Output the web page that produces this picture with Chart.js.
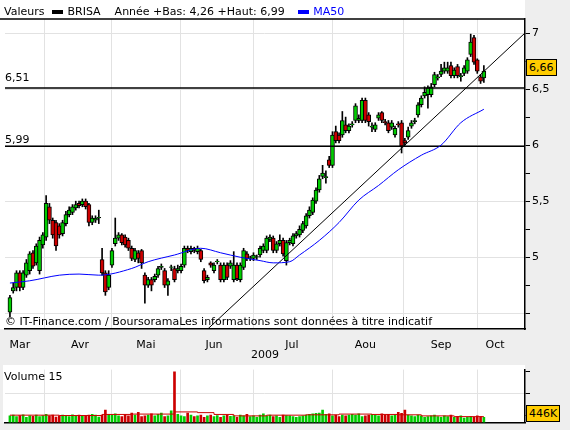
<!DOCTYPE html>
<html>
<head>
<meta charset="utf-8">
<script src="https://cdn.jsdelivr.net/npm/chart.js@4"></script>
<style>
  body { margin: 0; background: #eeeeee; font-family: "DejaVu Sans", sans-serif; font-size: 11px; }
  #wrap { position: relative; width: 570px; height: 430px; overflow: hidden; }
  canvas { position: absolute; left: 0; }
  .txt { position: absolute; white-space: nowrap; font-size: 11px; color: #000; }
  .sw { display: inline-block; width: 11px; height: 4px; vertical-align: middle; margin: 0 4px 0 8px; }
  .box { position: absolute; background: #ffcc00; border: 1px solid #000; font-size: 11px; padding: 1px 2px; }
</style>
</head>
<body>
<div id="wrap">
  <canvas id="priceChart" width="570" height="362" style="top:0"></canvas>
  <canvas id="volChart" width="570" height="68" style="top:362px"></canvas>

  <div class="txt" style="left:4px;top:5px">Valeurs<span class="sw" style="background:#000"></span>BRISA&nbsp;&nbsp;&nbsp; Année +Bas: 4,26 +Haut: 6,99 <span class="sw" style="background:#0000ff;margin-left:10px"></span><span style="color:#0000ff">MA50</span></div>
  <div class="txt" style="left:5px;top:71px">6,51</div>
  <div class="txt" style="left:5px;top:133px">5,99</div>
  <div class="txt" style="left:5px;top:315px">© IT-Finance.com / BoursoramaLes informations sont données à titre indicatif</div>
  <div class="box" style="left:526px;top:59px">6,66</div>
  <div class="txt" style="left:4px;top:370px">Volume 15</div>
  <div class="box" style="left:526px;top:405px">446K</div>
</div>
<script>
// bougies (ouverture, clôture, plus haut, plus bas)
const opens = [4.51,4.70,4.73,4.86,4.73,4.84,4.88,5.04,4.95,4.88, 5.11,5.18,5.45,5.33,5.31,5.28,5.21,5.30,5.38,5.40,
  5.44,5.48,5.47,5.50,5.47,5.31,5.33,5.35,4.98,4.86, 4.73,4.93,5.12,5.17,5.20,5.18,5.15,5.08,4.98,5.04,
  5.06,4.84,4.75,4.80,4.80,4.84,4.91,4.88,4.75,4.91, 4.90,4.88,4.88,4.93,5.08,5.05,5.08,5.05,5.06,4.88,
  4.80,4.95,4.88,4.96,4.93,4.80,4.93,4.92,4.80,4.93, 4.80,4.91,5.03,4.99,4.99,5.00,5.02,5.06,5.06,5.16,
  5.17,5.06,5.12,5.15,4.97,5.13,5.12,5.19,5.20,5.24, 5.28,5.37,5.40,5.50,5.60,5.72,5.71,5.87,5.82,6.12,
  6.09,6.09,6.18,6.13,6.18,6.22,6.22,6.22,6.40,6.27, 6.16,6.14,6.24,6.29,6.21,6.20,6.16,6.09,6.19,6.20,
  6.04,6.07,6.17,6.21,6.27,6.36,6.44,6.45,6.45,6.54, 6.60,6.63,6.66,6.66,6.71,6.62,6.70,6.61,6.64,6.66,
  6.81,6.96,6.76,6.61,6.60];
const closes = [4.64,4.73,4.86,4.73,4.86,4.95,5.03,4.92,5.10,5.15, 5.20,5.48,5.33,5.20,5.10,5.20,5.31,5.38,5.42,5.45,
  5.47,5.46,5.50,5.45,5.31,5.35,5.35,5.355,4.86,4.69, 4.84,5.06,5.17,5.20,5.13,5.11,5.08,4.99,5.06,4.99,
  4.95,4.75,4.80,4.75,4.83,4.90,4.92,4.75,4.79,4.915, 4.80,4.90,4.92,5.08,5.06,5.08,5.06,5.08,4.98,4.79,
  4.82,4.93,4.93,4.965,4.80,4.93,4.82,4.95,4.93,4.81, 4.93,5.06,4.99,4.995,5.02,5.005,5.08,5.10,5.17,5.18,
  5.06,5.12,5.15,5.03,5.13,5.15,5.19,5.21,5.25,5.30, 5.37,5.42,5.51,5.60,5.70,5.75,5.72,5.82,6.09,6.04,
  6.04,6.22,6.13,6.17,6.19,6.35,6.24,6.40,6.22,6.21, 6.17,6.18,6.27,6.22,6.20,6.13,6.20,6.15,6.18,5.99,
  6.02,6.13,6.20,6.22,6.36,6.42,6.47,6.51,6.52,6.63, 6.61,6.66,6.69,6.69,6.62,6.67,6.62,6.62,6.69,6.76,
  6.92,6.74,6.66,6.57,6.66];
const highs = [4.66,4.77,4.88,4.88,4.88,4.98,5.05,5.06,5.12,5.18, 5.22,5.55,5.48,5.35,5.33,5.30,5.33,5.41,5.45,5.47,
  5.50,5.50,5.52,5.52,5.48,5.37,5.37,5.42,5.08,4.88, 4.88,5.08,5.35,5.22,5.21,5.20,5.17,5.10,5.08,5.06,
  5.07,4.86,4.82,4.82,4.85,4.92,4.94,4.90,4.81,4.93, 4.92,4.93,4.94,5.10,5.10,5.10,5.09,5.10,5.07,4.90,
  4.84,4.96,4.95,4.98,4.95,4.95,4.95,4.97,5.05,4.95, 4.95,5.08,5.05,5.01,5.04,5.02,5.10,5.12,5.19,5.20,
  5.19,5.14,5.20,5.17,5.15,5.17,5.21,5.23,5.28,5.32, 5.39,5.45,5.53,5.62,5.73,5.82,5.77,5.90,6.12,6.17,
  6.11,6.30,6.25,6.19,6.21,6.37,6.27,6.42,6.42,6.29, 6.20,6.20,6.29,6.30,6.23,6.22,6.22,6.17,6.21,6.22,
  6.06,6.16,6.22,6.24,6.38,6.44,6.52,6.53,6.55,6.65, 6.63,6.72,6.74,6.74,6.74,6.69,6.72,6.64,6.71,6.78,
  6.99,6.98,6.77,6.63,6.71];
const lows = [4.47,4.68,4.70,4.70,4.71,4.82,4.85,4.90,4.93,4.85, 5.08,5.15,5.30,5.17,5.06,5.17,5.19,5.28,5.36,5.38,
  5.42,5.44,5.45,5.43,5.28,5.29,5.31,5.30,4.84,4.66, 4.71,4.91,5.10,5.15,5.11,5.09,5.06,4.97,4.96,4.95,
  4.90,4.59,4.73,4.70,4.78,4.82,4.89,4.73,4.66,4.88, 4.78,4.86,4.86,4.91,5.04,5.03,5.04,5.03,4.96,4.77,
  4.78,4.91,4.86,4.94,4.78,4.78,4.80,4.90,4.78,4.79, 4.78,4.89,4.97,4.97,4.97,4.98,5.00,5.04,5.04,5.14,
  5.04,5.04,5.10,5.01,4.93,5.11,5.10,5.17,5.18,5.22, 5.26,5.35,5.38,5.48,5.58,5.70,5.66,5.80,5.80,6.02,
  6.02,6.07,6.11,6.11,6.16,6.20,6.20,6.20,6.20,6.17, 6.12,6.12,6.22,6.20,6.18,6.11,6.14,6.07,6.16,5.93,
  6.00,6.05,6.15,6.19,6.25,6.34,6.42,6.33,6.43,6.52, 6.58,6.61,6.64,6.64,6.60,6.60,6.60,6.57,6.62,6.64,
  6.79,6.72,6.64,6.55,6.56];
// volumes en milliers
const volumes = [900,1000,800,950,1050,700,900,850,1000,800, 950,1100,900,1000,750,900,1000,950,800,1050,
  900,1000,850,900,1000,1100,1000,750,1000,1700, 1100,1000,1200,900,800,1100,900,1300,1000,1400,
  800,900,1000,1200,900,1100,1300,800,900,1600, 7000,1100,900,800,1300,1000,800,900,1000,700,
  900,1000,800,950,700,900,1000,850,900,700, 1000,900,1100,800,900,700,1000,1200,900,1000,
  800,900,700,1000,950,900,800,700,800,900, 1000,1100,1200,1250,1300,1700,1100,1200,900,1000,
  800,1000,900,1000,1100,1000,1200,800,900,1000, 1100,1000,900,1200,1000,1100,900,1000,1400,1250,
  1700,1000,900,800,1000,900,700,800,900,1000, 800,700,900,800,1000,700,800,900,600,700,
  800,700,900,800,700];
// moyenne mobile 50 (points relevés)
const maX = [0,6,15,21,27,37,42,50,58,64,70,76,80,85,88,94,100,106,112,118,125,131,137,144];
const maY = [4.77,4.79,4.84,4.85,4.84,4.90,4.96,5.02,5.08,5.04,5.00,4.97,4.95,4.96,5.02,5.15,5.31,5.51,5.64,5.78,5.91,6.00,6.20,6.32];
// moyenne volume
const vmaX = [0,15,28,37,49,50,57,62,68,78,90,100,110,118,125,135,144];
const vmaY = [1000,950,1100,1150,1150,1450,1350,1100,900,1000,1050,1150,1100,1050,900,800,800];
// droites
const trendX = [55, 156.5];
const trendY = [4.22, 7.0];
const supports = [6.51, 5.99];
// axe temps
const monthLabels = ["Mar","Avr","Mai","Jun","Jul","Aou","Sep","Oct"];
const monthMid = [3, 21.3, 41.3, 62, 85.7, 108, 131, 147.4];
const monthStart = [10.6, 31, 51.7, 73.9, 97.9, 119.5, 142];
const priceTicks = [4.5,4.75,5,5.25,5.5,5.75,6,6.25,6.5,6.75,7];

const xMin = -1.5, xMax = 156.5;
const green = "#00cc00", red = "#cc0000";
const candleColors = opens.map((o, i) => (closes[i] >= o ? green : red));

const whiteBg = {
  id: "whiteBg",
  beforeDraw(chart, args, opts) {
    const { ctx, chartArea } = chart;
    ctx.save();
    ctx.fillStyle = "#fff";
    ctx.fillRect(opts.left, opts.top, chartArea.right - opts.left, chartArea.bottom - opts.top);
    ctx.restore();
  },
  afterDraw(chart, args, opts) {
    if (!opts.topLine) return;
    const { ctx, chartArea } = chart;
    ctx.save();
    ctx.strokeStyle = "#000";
    ctx.lineWidth = 1.5;
    ctx.beginPath();
    ctx.moveTo(0, chartArea.top);
    ctx.lineTo(chartArea.right, chartArea.top);
    ctx.stroke();
    ctx.restore();
  },
};

const font = { family: "DejaVu Sans", size: 11 };
Chart.defaults.font = font;
Chart.defaults.color = "#000";

new Chart(document.getElementById("priceChart"), {
  type: "bar",
  data: {
    datasets: [
      {
        label: "mèches",
        data: opens.map((o, i) => ({ x: i, y: [lows[i], highs[i]] })),
        backgroundColor: "#000",
        barThickness: 1,
        grouped: false,
        order: 4,
      },
      {
        label: "BRISA",
        data: opens.map((o, i) => ({ x: i, y: [o, closes[i]] })),
        backgroundColor: candleColors,
        borderColor: "#000",
        borderWidth: 1,
        borderSkipped: false,
        barThickness: 4,
        grouped: false,
        order: 3,
      },
      {
        type: "line",
        label: "MA50",
        data: maX.map((x, i) => ({ x, y: maY[i] })),
        borderColor: "#0000ff",
        borderWidth: 1,
        pointRadius: 0,
        cubicInterpolationMode: "monotone",
        order: 1,
      },
      {
        type: "line",
        label: "tendance",
        data: trendX.map((x, i) => ({ x, y: trendY[i] })),
        borderColor: "#000",
        borderWidth: 1,
        pointRadius: 0,
        order: 2,
      },
      ...supports.map((v) => ({
        type: "line",
        label: "support",
        data: [{ x: xMin, y: v }, { x: xMax, y: v }],
        borderColor: "#000",
        borderWidth: 1.5,
        pointRadius: 0,
        order: 2,
      })),
    ],
  },
  options: {
    responsive: false,
    animation: false,
    layout: { padding: { left: 5, top: 19 } },
    plugins: {
      legend: { display: false },
      tooltip: { enabled: false },
      whiteBg: { left: 0, top: 0, topLine: true },
    },
    scales: {
      x: {
        type: "linear",
        offset: false,
        min: xMin,
        max: xMax,
        afterBuildTicks: (s) => { s.ticks = monthMid.map((v) => ({ value: v })); },
        ticks: { autoSkip: false, maxRotation: 0, padding: 2, callback: (v, i) => monthLabels[i] },
        grid: { display: false },
        border: { color: "#000", width: 1.5 },
        title: { display: true, text: "2009", padding: { top: 1, bottom: 0 } },
        afterFit: (s) => { s.height = 33; },
      },
      xg: {
        type: "linear",
        offset: false,
        position: "bottom",
        min: xMin,
        max: xMax,
        afterBuildTicks: (s) => { s.ticks = monthStart.map((v) => ({ value: v })); },
        ticks: { display: false },
        grid: { color: "#e2e2e2", drawTicks: false, offset: false },
        border: { display: false },
        afterFit: (s) => { s.height = 0; },
      },
      y: {
        position: "right",
        min: 4.36,
        max: 7.125,
        afterBuildTicks: (s) => { s.ticks = priceTicks.map((v) => ({ value: v })); },
        ticks: {
          padding: 2,
          callback: (v) => (v >= 5 && Math.abs(v * 2 - Math.round(v * 2)) < 1e-6 ? String(v).replace(".", ",") : ""),
        },
        grid: {
          color: (c) => (Math.abs(c.tick.value * 2 - Math.round(c.tick.value * 2)) < 1e-6 ? "#e2e2e2" : "rgba(0,0,0,0)"),
          tickColor: "#000",
          tickLength: 5,
        },
        border: { color: "#000", width: 1.5 },
        afterFit: (s) => { s.width = 45; },
      },
    },
  },
  plugins: [whiteBg],
});

new Chart(document.getElementById("volChart"), {
  type: "bar",
  data: {
    datasets: [
      {
        label: "Volume",
        data: volumes.map((v, i) => ({ x: i, y: v })),
        backgroundColor: candleColors,
        barThickness: 2,
        grouped: false,
        order: 2,
      },
      {
        type: "line",
        label: "Moyenne",
        data: vmaX.map((x, i) => ({ x, y: vmaY[i] })),
        borderColor: red,
        borderWidth: 1,
        stepped: true,
        pointRadius: 0,
        order: 1,
      },
    ],
  },
  options: {
    responsive: false,
    animation: false,
    layout: { padding: { left: 5, top: 3, bottom: 6 } },
    plugins: {
      legend: { display: false },
      tooltip: { enabled: false },
      whiteBg: { left: 3, top: 3, topLine: false },
    },
    scales: {
      x: {
        type: "linear",
        offset: false,
        min: xMin,
        max: xMax,
        afterBuildTicks: (s) => { s.ticks = monthStart.map((v) => ({ value: v })); },
        ticks: { display: false },
        grid: { color: "#e2e2e2", drawTicks: false, offset: false },
        border: { color: "#000", width: 1.5 },
        afterFit: (s) => { s.height = 0; },
      },
      y: {
        position: "right",
        min: 0,
        max: 7300,
        afterBuildTicks: (s) => { s.ticks = [1000, 2000, 4000, 6000, 7000].map((v) => ({ value: v })); },
        ticks: { padding: 1, callback: (v) => (v === 6000 ? "6000K" : "") },
        grid: {
          color: (c) => ([2000, 4000, 6000].includes(c.tick.value) ? "#e2e2e2" : "rgba(0,0,0,0)"),
          tickColor: "#000",
          tickLength: 5,
        },
        border: { color: "#000", width: 1.5 },
        afterFit: (s) => { s.width = 45; },
      },
    },
  },
  plugins: [whiteBg],
});
</script>
</body>
</html>
